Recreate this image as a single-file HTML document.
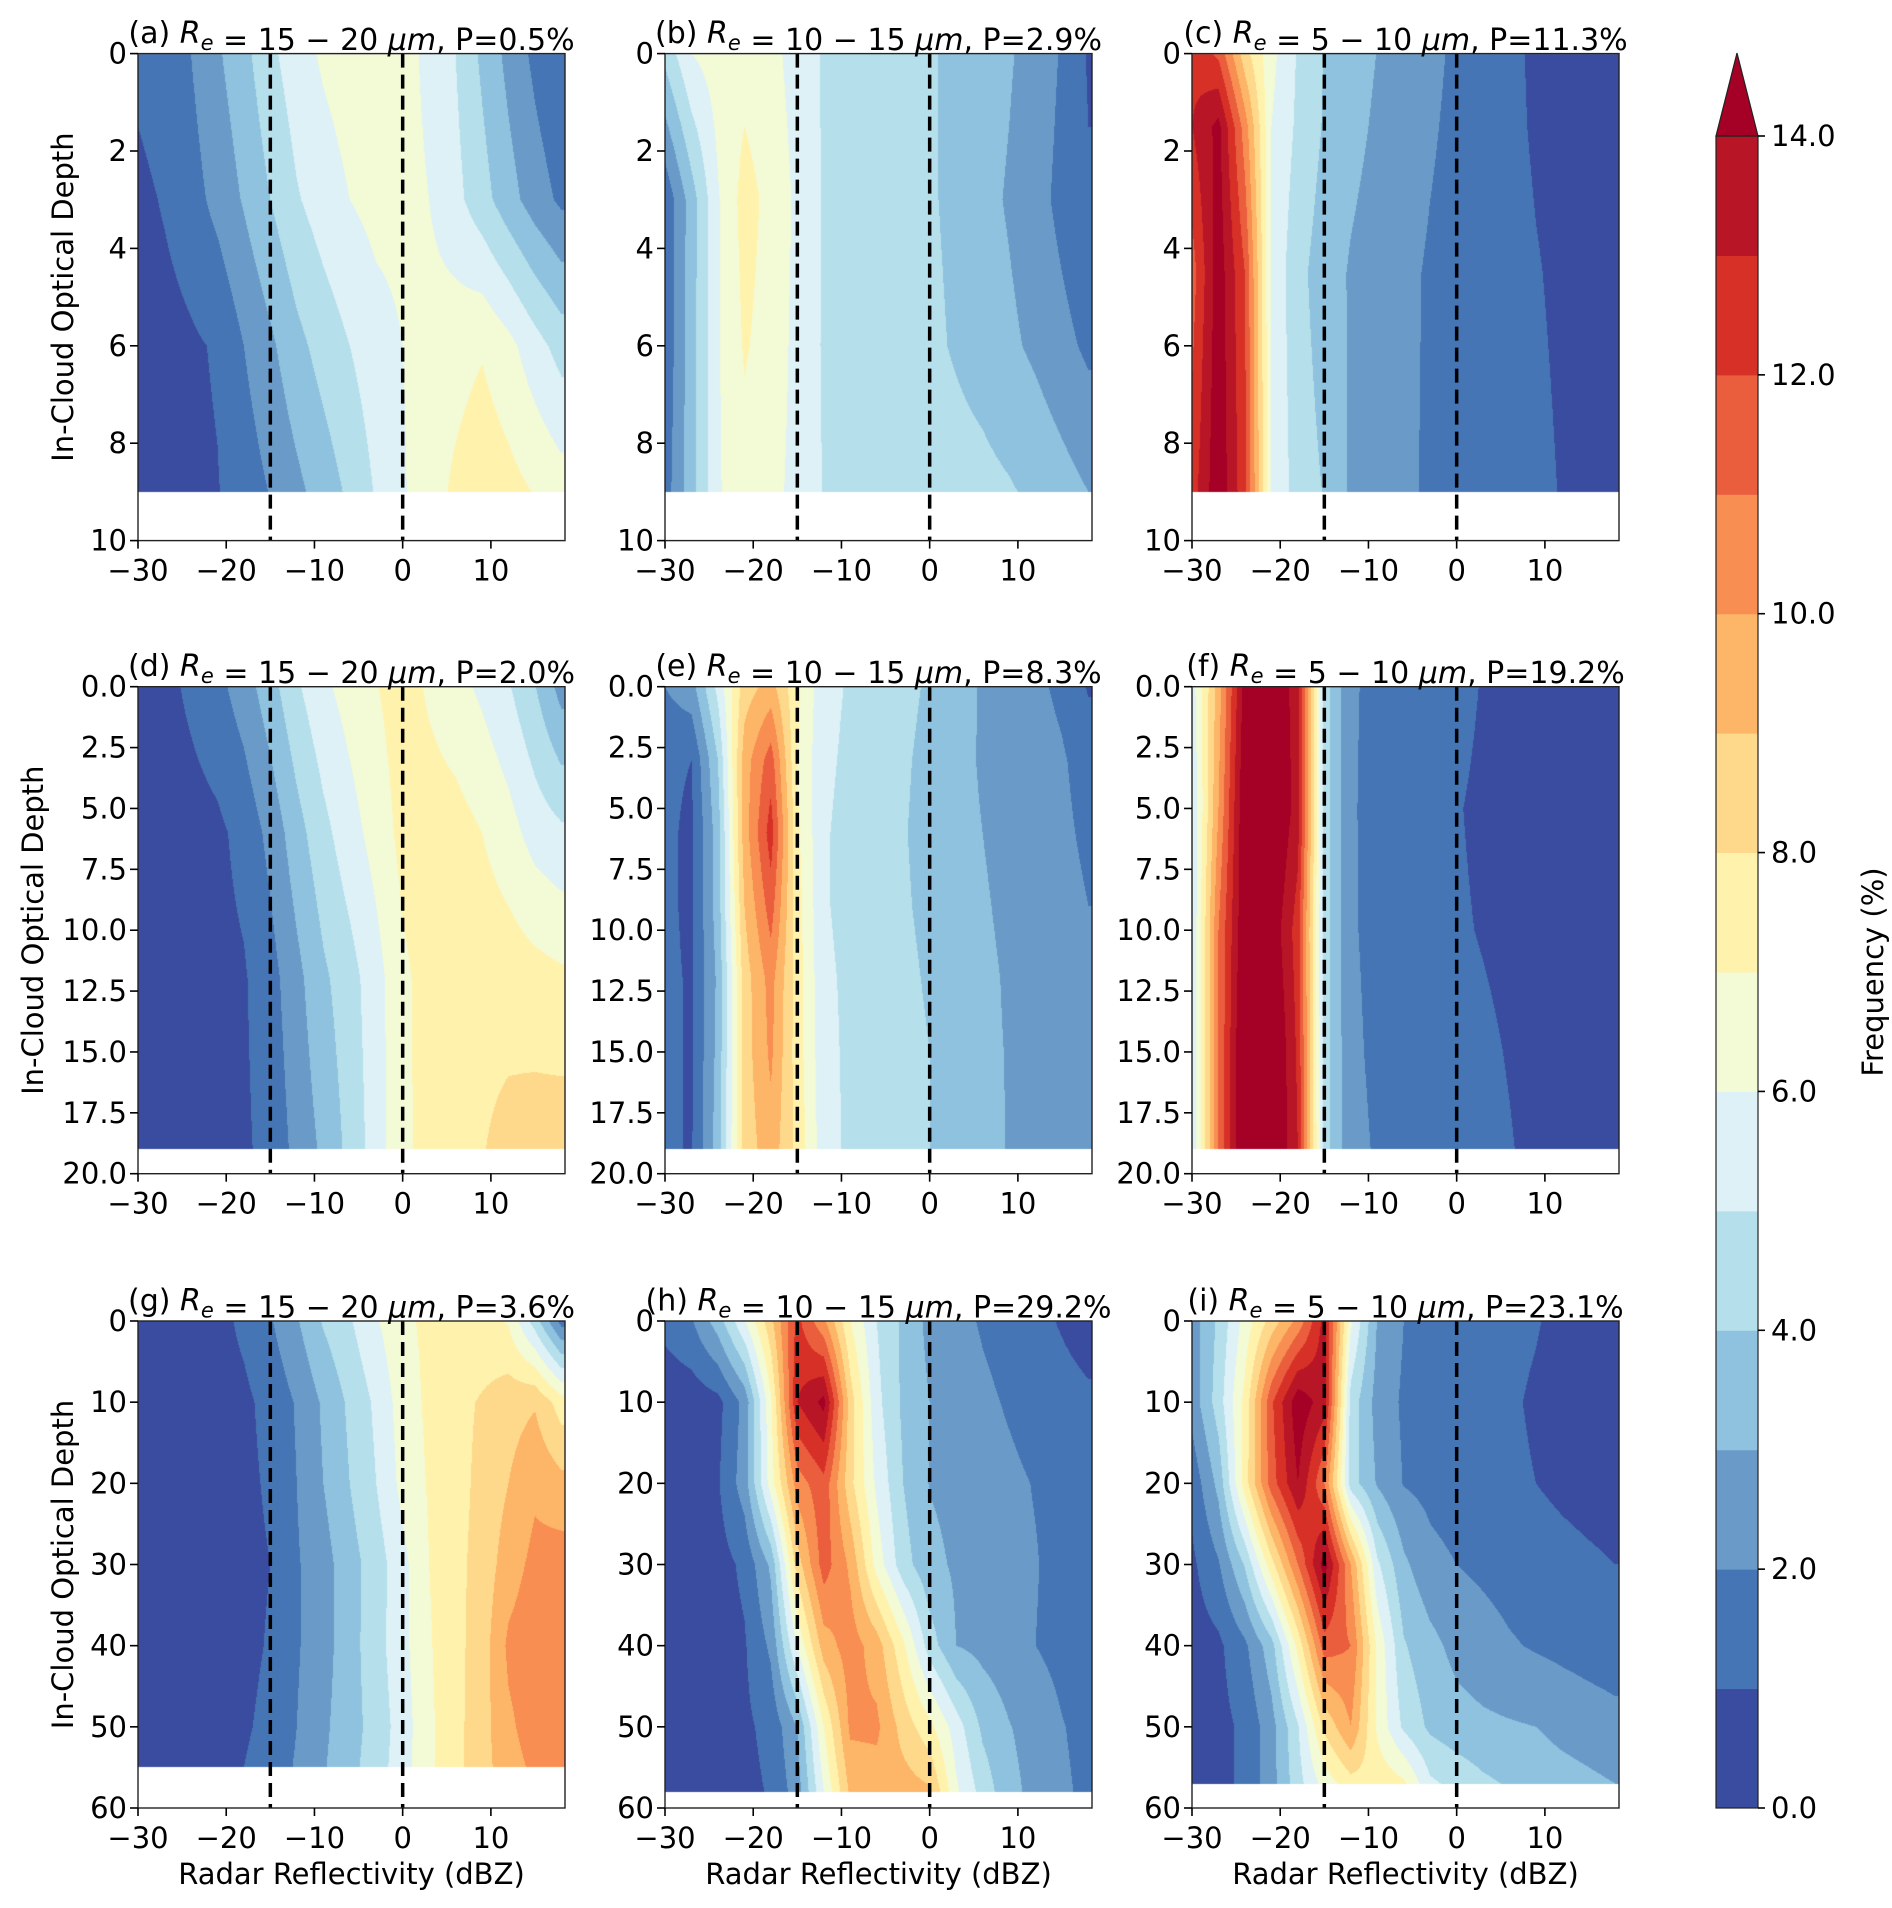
<!DOCTYPE html>
<html><head><meta charset="utf-8"><title>Radar reflectivity vs optical depth frequency</title>
<style>
html,body{margin:0;padding:0;background:#fff;}
#wrap{position:relative;width:1892px;height:1908px;overflow:hidden;}
#fill{position:absolute;left:0;top:0;}
#ov{position:absolute;left:0;top:0;}
text{font-family:"DejaVu Sans","Liberation Sans",sans-serif;fill:#000;}
</style></head>
<body>
<div id="wrap">
<canvas id="fill" width="1892" height="1908"></canvas>
<svg id="ov" width="1892" height="1908" xmlns="http://www.w3.org/2000/svg"></svg>
</div>
<script>
// ---------- data ----------
const xBins = [-30,-27,-24,-21,-18,-15,-12,-9,-6,-3,0,3,6,9,12,15,18];
const levelColors = ['#3a4c9f','#4575b4','#6a9bc8','#8fc2de','#b5dfeb','#ddf1f7','#f3fad6','#fff2ac','#fed98b','#fdb567','#f88e52','#ea5d3d','#d73027','#b81527','#a50026'];
const cbarTicks = [0,2,4,6,8,10,12,14];

const depthA = [0,3,6,9];
const freqA = [
[1.3,1.65,2.0,2.85,3.7,4.75,5.6,6.15,6.5,6.6,6.3,5.8,5.0,3.8,2.7,1.75,1.0],
[0.7,1.1,1.6,2.3,3.1,4.0,4.9,5.5,6.0,6.3,6.3,6.0,5.3,4.4,3.4,2.5,1.8],
[0.4,0.6,0.85,1.1,2.0,2.8,3.7,4.4,5.0,5.6,6.0,6.4,6.6,6.9,6.3,5.4,4.6],
[0.3,0.5,0.75,0.95,1.45,2.05,2.75,3.45,4.2,5.1,5.9,6.55,7.2,7.7,7.35,6.95,6.5]];
const depthB = [0,3,6,9];
const freqB = [
[4.3,6.0,6.5,6.6,6.3,5.6,4.9,4.7,4.6,4.4,4.1,3.8,3.5,3.1,2.6,1.9,0.9],
[1.2,3.5,5.9,7.4,6.7,5.8,4.9,4.7,4.6,4.4,4.1,3.8,3.3,2.9,2.4,1.7,1.1],
[1.2,3.6,5.9,7.1,6.6,5.7,4.9,4.7,4.6,4.4,4.2,3.9,3.6,3.2,2.8,2.3,1.8],
[1.5,3.6,5.9,6.6,6.3,5.7,4.95,4.8,4.7,4.6,4.5,4.4,4.3,4.1,3.8,3.4,3.0]];
const depthC = [0,1.5,4.5,9];
const freqC = [
[12.7,11.8,8.4,6.3,4.9,3.97,3.45,2.98,2.6,2.2,1.85,1.5,1.2,0.85,0.7,0.55,0.45],
[13.0,14.3,10.5,6.0,4.8,3.9,3.3,2.85,2.5,2.1,1.8,1.5,1.2,0.9,0.75,0.6,0.5],
[11.5,14.6,12.0,5.8,4.3,3.5,2.9,2.55,2.2,1.9,1.7,1.5,1.3,1.05,0.85,0.7,0.6],
[12.5,14.8,12.3,6.0,4.5,3.95,2.85,2.55,2.2,1.85,1.7,1.55,1.35,1.2,0.95,0.75,0.6]];
const depthD = [0,6,12,19];
const freqD = [
[0.4,0.7,1.2,1.7,2.5,3.6,4.85,5.8,6.4,6.95,7.5,6.85,6.35,5.8,5.1,4.05,2.6],
[0.3,0.45,0.6,0.8,1.3,2.3,3.6,4.7,5.6,6.4,7.3,7.5,7.4,7.0,6.4,5.6,5.2],
[0.3,0.4,0.5,0.7,0.9,1.6,2.7,3.8,4.6,5.6,6.8,7.4,7.6,7.7,7.6,7.4,7.2],
[0.3,0.4,0.5,0.7,0.85,1.3,2.3,3.2,4.3,5.5,6.8,7.3,7.6,7.95,8.3,8.5,8.6]];
const depthE = [0,3,6,9,12,15,19];
const freqE = [
[2.0,2.6,5.3,8.5,9.4,7.2,5.3,4.9,4.6,4.2,3.9,3.4,2.9,2.5,2.2,1.8,0.9],
[1.2,1.0,4.0,9.5,11.5,7.0,5.2,4.8,4.5,4.1,3.8,3.3,2.9,2.6,2.4,2.1,1.6],
[1.2,0.8,3.5,9.5,12.5,7.2,5.1,4.7,4.4,4.05,3.75,3.3,3.0,2.7,2.45,2.2,1.8],
[1.2,0.8,3.5,9.0,11.5,7.4,5.1,4.7,4.4,4.1,3.8,3.4,3.1,2.8,2.6,2.35,2.0],
[1.2,0.9,3.2,8.5,10.4,7.5,5.2,4.8,4.5,4.2,3.9,3.5,3.2,2.9,2.7,2.5,2.2],
[1.2,0.9,3.3,8.5,10.2,7.5,5.3,4.8,4.55,4.3,4.0,3.6,3.2,2.95,2.75,2.6,2.4],
[1.2,0.9,3.5,8.4,9.6,7.7,5.4,4.8,4.6,4.3,4.0,3.6,3.3,2.95,2.8,2.7,2.6]];
const depthF = [0,5,10,15,19];
const freqF = [
[5.5,9.5,14.5,15.0,13.5,4.5,2.1,1.8,1.6,1.4,1.25,0.95,0.8,0.65,0.55,0.45,0.4],
[5.0,10.0,15.0,15.5,13.5,4.5,2.1,1.7,1.5,1.3,1.05,0.85,0.7,0.6,0.5,0.45,0.4],
[5.0,11.0,15.0,14.8,12.5,4.5,2.1,1.75,1.5,1.3,1.1,0.95,0.8,0.65,0.55,0.45,0.4],
[5.0,11.0,15.5,15.5,12.8,4.5,2.2,1.8,1.6,1.45,1.3,1.15,0.95,0.7,0.55,0.45,0.4],
[5.0,11.0,15.5,15.5,13.0,4.5,2.3,1.9,1.7,1.55,1.4,1.25,1.05,0.8,0.6,0.5,0.45]];
const depthG = [0,10,20,30,40,50,55];
const freqG = [
[0.3,0.4,0.5,0.7,1.2,1.9,2.9,4.1,4.9,5.9,6.8,7.2,7.5,7.3,6.9,4.5,1.6],
[0.3,0.35,0.45,0.6,0.8,1.3,2.1,3.15,4.2,5.2,6.5,7.2,7.7,8.1,8.6,8.9,7.5],
[0.3,0.35,0.45,0.6,0.75,1.15,2.0,3.0,4.0,5.0,6.3,7.1,7.6,8.3,9.0,9.8,9.3],
[0.3,0.35,0.45,0.6,0.7,1.0,1.9,2.6,3.6,4.5,5.7,7.0,7.7,8.4,9.5,10.3,10.5],
[0.3,0.35,0.45,0.6,0.7,1.1,1.9,2.6,3.6,4.6,5.7,6.9,7.7,8.5,10.2,10.7,10.5],
[0.3,0.35,0.45,0.6,0.85,1.3,2.0,2.8,3.6,4.4,5.5,6.8,7.7,8.6,9.8,10.5,10.3],
[0.3,0.4,0.5,0.7,1.0,1.5,2.1,2.9,3.7,4.5,5.6,6.8,7.7,8.6,9.6,10.2,10.0]];
const depthH = [0,10,20,30,40,50,58];
const freqH = [
[1.3,1.9,3.5,5.9,8.7,12.3,10.2,7.0,5.0,3.8,2.7,2.3,1.9,1.6,1.3,0.9,0.5],
[0.3,0.4,0.7,2.3,6.8,13.0,14.3,8.5,5.3,3.8,3.0,2.7,2.2,1.9,1.6,1.4,1.2],
[0.3,0.4,0.9,2.5,6.5,10.5,11.7,8.3,5.8,4.0,2.95,2.7,2.45,2.2,1.95,1.7,1.5],
[0.3,0.4,0.6,1.2,3.2,8.5,11.5,9.8,6.6,4.4,3.3,2.85,2.6,2.3,2.05,1.7,1.5],
[0.3,0.4,0.55,0.9,2.2,6.1,9.5,10.5,9.5,7.2,4.5,3.0,2.7,2.4,2.0,1.7,1.4],
[0.3,0.4,0.5,0.8,1.3,3.0,7.0,10.2,10.2,8.6,7.3,5.5,3.8,3.05,2.6,2.05,1.7],
[0.3,0.4,0.5,0.7,1.1,2.5,6.0,9.2,9.5,9.5,9.2,6.2,4.6,3.3,2.7,2.15,1.8]];
const depthI = [0,10,20,30,40,50,57];
const freqI = [
[2.5,4.2,6.4,8.4,10.3,13.4,6.2,2.95,2.0,1.75,1.5,1.35,1.2,1.05,0.8,0.6,0.5],
[2.4,4.5,7.3,11.8,14.7,13.5,4.6,2.6,1.85,1.6,1.4,1.25,1.1,0.9,0.7,0.55,0.5],
[1.3,3.3,7.5,11.5,14.0,11.0,4.5,2.9,1.95,1.7,1.5,1.3,1.15,1.0,0.8,0.65,0.55],
[0.8,1.9,4.1,7.6,11.0,14.5,10.0,5.2,3.2,2.3,2.0,1.8,1.6,1.45,1.3,1.15,1.0],
[0.5,0.8,1.8,3.6,7.3,11.5,11.0,6.8,4.1,3.3,2.7,2.4,2.1,1.9,1.75,1.6,1.5],
[0.5,0.7,1.2,2.6,4.9,8.2,10.0,6.8,4.8,3.8,3.4,3.2,3.1,3.0,2.7,2.5,2.3],
[0.5,0.7,1.2,2.6,4.6,6.4,7.6,7.7,7.2,5.2,4.7,4.2,3.9,3.6,3.4,3.2,3.0]];

const panelLetters = ['a','b','c','d','e','f','g','h','i'];
const reRanges = ['15 − 20','10 − 15','5 − 10','15 − 20','10 − 15','5 − 10','15 − 20','10 − 15','5 − 10'];
const pValues = ['0.5','2.9','11.3','2.0','8.3','19.2','3.6','29.2','23.1'];
const rowYMax = [10,20,60];
const rowYTicks = [[0,2,4,6,8,10],[0,2.5,5,7.5,10,12.5,15,17.5,20],[0,10,20,30,40,50,60]];
const xTicks = [-30,-20,-10,0,10];
const refLines = [-15,0];

// ---------- layout ----------
const colX = [138,665,1192];
const rowY = [53.6,686.7,1321];
const PW = 427, PH = 487;
const XMIN = -30, XMAX = 18.4;
const depths = [depthA,depthB,depthC,depthD,depthE,depthF,depthG,depthH,depthI];
const freqs = [freqA,freqB,freqC,freqD,freqE,freqF,freqG,freqH,freqI];

function hexRgb(h){return [parseInt(h.slice(1,3),16),parseInt(h.slice(3,5),16),parseInt(h.slice(5,7),16)];}
const rgbs = levelColors.map(hexRgb);
function levelOf(v){let k=Math.floor(v);if(k<0)k=0;if(k>14)k=14;return k;}

function interp(xs, ys, grid, x, y){
  if(x<xs[0])x=xs[0]; if(x>xs[xs.length-1])x=xs[xs.length-1];
  let i=0; while(i<xs.length-2 && x>xs[i+1]) i++;
  let j=0; while(j<ys.length-2 && y>ys[j+1]) j++;
  const tx=(x-xs[i])/(xs[i+1]-xs[i]);
  const ty=Math.min(1,Math.max(0,(y-ys[j])/(ys[j+1]-ys[j])));
  const a=grid[j][i],b=grid[j][i+1],c=grid[j+1][i],d=grid[j+1][i+1];
  return a*(1-tx)*(1-ty)+b*tx*(1-ty)+c*(1-tx)*ty+d*tx*ty;
}

const cv=document.getElementById('fill');
const ctx=cv.getContext('2d');
const img=ctx.createImageData(1892,1908);
for(let k=0;k<img.data.length;k+=4){img.data[k]=255;img.data[k+1]=255;img.data[k+2]=255;img.data[k+3]=255;}
for(let p=0;p<9;p++){
  const r=Math.floor(p/3), c=p%3;
  const x0=colX[c], y0=rowY[r], ymax=rowYMax[r];
  const ys=depths[p], grid=freqs[p], dataMax=ys[ys.length-1];
  const pxStart=Math.round(x0), pyStart=Math.round(y0);
  for(let py=pyStart; py<Math.round(y0+PH); py++){
    const y=(py+0.5-y0)/PH*ymax;
    if(y>dataMax) continue;
    for(let px=pxStart; px<Math.round(x0+PW); px++){
      const x=XMIN+(px+0.5-x0)/PW*(XMAX-XMIN);
      const col=rgbs[levelOf(interp(xBins,ys,grid,x,y))];
      const o=(py*1892+px)*4;
      img.data[o]=col[0];img.data[o+1]=col[1];img.data[o+2]=col[2];
    }
  }
}
ctx.putImageData(img,0,0);

// ---------- svg overlay ----------
const NS='http://www.w3.org/2000/svg';
const svg=document.getElementById('ov');
function mk(tag,attrs,parent){const e=document.createElementNS(NS,tag);for(const k in attrs)e.setAttribute(k,attrs[k]);(parent||svg).appendChild(e);return e;}
function fmt(v,r){ if(r===1) return v.toFixed(1).replace('-','−'); return String(v).replace('-','−'); }

const FT=29;
for(let p=0;p<9;p++){
  const r=Math.floor(p/3), c=p%3;
  const x0=colX[c], y0=rowY[r], ymax=rowYMax[r];
  const sx=v=>x0+(v-XMIN)/(XMAX-XMIN)*PW;
  const sy=v=>y0+v/ymax*PH;
  const g=mk('g',{});
  
  
  refLines.forEach(v=>{
    const l=mk('line',{x1:sx(v),x2:sx(v),y1:y0,y2:y0+PH,stroke:'#000','stroke-width':3.5,'stroke-dasharray':'14 7'},g);
    
    
  });
  const fr=mk('rect',{x:x0,y:y0,width:PW,height:PH,fill:'none',stroke:'#222','stroke-width':1.4},g);
  
  
  xTicks.forEach(v=>{
    mk('line',{x1:sx(v),x2:sx(v),y1:y0+PH,y2:y0+PH+8,stroke:'#000','stroke-width':1.6},g);
    const t=mk('text',{x:sx(v),y:y0+PH+40,'text-anchor':'middle','font-size':FT},g);
    t.textContent=fmt(v,0);
    
    
  });
  rowYTicks[r].forEach(v=>{
    mk('line',{x1:x0-8,x2:x0,y1:sy(v),y2:sy(v),stroke:'#000','stroke-width':1.6},g);
    const t=mk('text',{x:x0-11,y:sy(v)+10,'text-anchor':'end','font-size':FT},g);
    t.textContent=(r===1)?fmt(v,1):fmt(v,0);
    
    
  });
  const tt=mk('text',{x:x0+PW/2,y:y0-10.6,'text-anchor':'middle','font-size':30},g);
  
  
  const parts=[['('+panelLetters[p]+') ',{}],['R',{'font-style':'italic'}],['e',{'font-style':'italic','font-size':21,dy:7}],['',{dy:-7}],[' = '+reRanges[p]+' ',{}],['μm',{'font-style':'italic'}],[', P='+pValues[p]+'%',{}]];
  parts.forEach(([s,a])=>{const ts=mk('tspan',a,tt);ts.textContent=s;});
  if(c===0){
    const lx = r===1?33:63;
    const yl=mk('text',{x:lx,y:y0+PH/2,'text-anchor':'middle','font-size':FT,transform:'rotate(-90 '+lx+' '+(y0+PH/2)+')',dy:10},g);
    yl.textContent='In-Cloud Optical Depth';
    
    
  }
  if(r===2){
    const xl=mk('text',{x:x0+PW/2,y:1884,'text-anchor':'middle','font-size':FT},g);
    xl.textContent='Radar Reflectivity (dBZ)';
    
    
  }
}

// colorbar
const CBX=1716, CBW=42, CBT=136, CBB=1808;
const cb=mk('g',{});


const cy=v=>CBB-(v/14)*(CBB-CBT);
for(let k=0;k<14;k++){
  const rr=mk('rect',{x:CBX,y:cy(k+1),width:CBW,height:cy(k)-cy(k+1)+0.5,fill:levelColors[k]},cb);
  
  
}
const tri=mk('polygon',{points:CBX+','+CBT+' '+(CBX+CBW)+','+CBT+' '+(CBX+CBW/2)+',53',fill:levelColors[14],stroke:'#222','stroke-width':1.2},cb);


mk('rect',{x:CBX,y:CBT,width:CBW,height:CBB-CBT,fill:'none',stroke:'#222','stroke-width':1.2},cb);
cbarTicks.forEach(v=>{
  mk('line',{x1:CBX+CBW,x2:CBX+CBW+7,y1:cy(v),y2:cy(v),stroke:'#000','stroke-width':1.6},cb);
  const t=mk('text',{x:CBX+CBW+13,y:cy(v)+10,'font-size':FT},cb);
  t.textContent=v.toFixed(1);
  
  
});
const cl=mk('text',{x:1873,y:(CBT+CBB)/2,'text-anchor':'middle','font-size':FT,transform:'rotate(-90 1873 '+((CBT+CBB)/2)+')',dy:10},cb);
cl.textContent='Frequency (%)';


</script>
</body></html>
